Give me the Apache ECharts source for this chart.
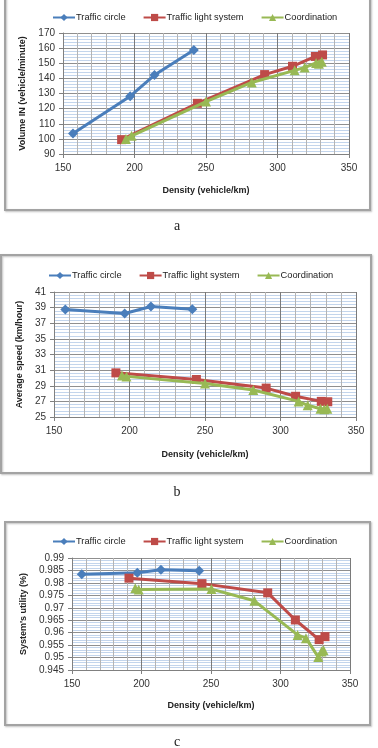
<!DOCTYPE html>
<html>
<head>
<meta charset="utf-8">
<script src="https://cdn.jsdelivr.net/npm/echarts@6/dist/echarts.min.js"></script>
<style>
  html, body { margin: 0; padding: 0; background: #fff; }
  #main { width: 378px; height: 748px; }
</style>
</head>
<body>
<div id="main"></div>
<script>
// series names
var seriesNames = ['Traffic circle', 'Traffic light system', 'Coordination'];

// chart a: volume IN vs density
var volCircle = [[157, 103.5], [197, 128.2], [214, 142.2], [241.5, 158.7]];
var volLight = [[191, 99.5], [244, 123.5], [291, 142.5], [310.5, 148], [326.5, 154.5], [331.5, 155.5]];
var volCoord = [[194, 100], [198, 102], [250, 124.7], [282, 137.3], [312, 145.3], [319, 147.2], [327, 150.2], [329, 149.6], [331, 151]];

// chart b: average speed vs density
var spdCircle = [[157.5, 38.75], [196.8, 38.25], [214.2, 39.15], [241.6, 38.8]];
var spdLight = [[191, 30.65], [244.3, 29.8], [290.5, 28.7], [310, 27.65], [327, 27.0], [331.3, 26.95]];
var spdCoord = [[195, 30.3], [198, 30.2], [250, 29.3], [282, 28.45], [312, 27.0], [318, 26.5], [326.5, 26.05], [329, 26.0], [331, 26.05]];

// chart c: system's utility vs density
var utlCircle = [[157, 0.9835], [197, 0.9841], [214, 0.9853], [241.5, 0.9849]];
var utlLight = [[191, 0.9819], [243.5, 0.9797], [290.8, 0.976], [310.7, 0.9651], [327.8, 0.9572], [332, 0.9584]];
var utlCoord = [[195.5, 0.9778], [198, 0.9773], [250.3, 0.9775], [281.2, 0.9728], [312.3, 0.9591], [318.3, 0.9578], [327.2, 0.9502], [329.5, 0.9524], [331, 0.9529]];

// tick settings
var xMin = 150, xMax = 350, xStep = 50;
var volTicks = [90, 170, 10];
var spdTicks = [25, 41, 2];
var utlTicks = [0.945, 0.99, 0.005];

var colors = ['#4a7ebb', '#be4b48', '#98b954'];
var symbols = ['diamond', 'rect', 'triangle'];
var symbolSizes = [10, 9, 10];

var myChart = echarts.init(document.getElementById('main'));

var panels = [
    { grid: { left: 63, top: 33, width: 286, height: 121 }, ticks: volTicks, yName: 'Volume IN (vehicle/minute)', yGap: 33, xGap: 32, legendTop: 8, legendLeft: 47, data: [volCircle, volLight, volCoord] },
    { grid: { left: 54, top: 292, width: 302, height: 125 }, ticks: spdTicks, yName: 'Average speed (km/hour)', yGap: 25, xGap: 33, legendTop: 266, legendLeft: 43, data: [spdCircle, spdLight, spdCoord] },
    { grid: { left: 72, top: 558, width: 278, height: 112 }, ticks: utlTicks, yName: "System's utility (%)", yGap: 42, xGap: 31, legendTop: 532, legendLeft: 47, data: [utlCircle, utlLight, utlCoord] }
];

var grids = [], xAxes = [], yAxes = [], legends = [], series = [];
panels.forEach(function (p, i) {
    grids.push(p.grid);
    xAxes.push({
        type: 'value', gridIndex: i, min: xMin, max: xMax, interval: xStep,
        name: 'Density (vehicle/km)', nameLocation: 'middle', nameGap: p.xGap,
        nameTextStyle: { fontFamily: 'Liberation Sans', fontSize: 9, fontWeight: 'bold', color: '#222' },
        axisLine: { onZero: false, lineStyle: { color: '#808080', width: 1 } },
        axisTick: { show: true, length: 4, lineStyle: { color: '#808080' } },
        axisLabel: { fontFamily: 'Liberation Sans', fontSize: 10, color: '#333', margin: 9 },
        splitLine: { show: true, lineStyle: { color: '#7a7a7a', width: 1 } },
        minorTick: { show: false, splitNumber: 5 },
        minorSplitLine: { show: true, lineStyle: { color: '#b4b4b4', width: 1 } }
    });
    yAxes.push({
        type: 'value', gridIndex: i, min: p.ticks[0], max: p.ticks[1], interval: p.ticks[2],
        name: p.yName, nameLocation: 'middle', nameGap: p.yGap,
        nameTextStyle: { fontFamily: 'Liberation Sans', fontSize: 9, fontWeight: 'bold', color: '#222' },
        axisLine: { show: true, lineStyle: { color: '#808080', width: 1 } },
        axisTick: { show: true, length: 4, lineStyle: { color: '#808080' } },
        axisLabel: {
            fontFamily: 'Liberation Sans', fontSize: 10, color: '#333', margin: 8,
            formatter: function (v) { return String(+v.toFixed(3)); }
        },
        splitLine: { show: true, lineStyle: { color: '#8f8f8f', width: 1 } },
        minorTick: { show: false, splitNumber: 5 },
        minorSplitLine: { show: true, lineStyle: { color: '#c3d5ec', width: 1 } }
    });
    legends.push({
        top: p.legendTop, left: p.legendLeft, itemWidth: 22, itemHeight: 9, itemGap: 17,
        data: seriesNames,
        textStyle: { fontFamily: 'Liberation Sans', fontSize: 9.3, color: '#222', padding: [0, 0, 0, -4] }
    });
    p.data.forEach(function (d, k) {
        series.push({
            name: seriesNames[k], type: 'line', xAxisIndex: i, yAxisIndex: i,
            data: d, symbol: symbols[k], symbolSize: symbolSizes[k],
            lineStyle: { color: colors[k], width: 3 },
            itemStyle: { color: colors[k] },
            z: 3 + k
        });
    });
});

var frameStyle = { fill: 'none', stroke: '#a3a3a3', lineWidth: 2, shadowColor: 'rgba(0,0,0,0.25)', shadowBlur: 2, shadowOffsetX: 1, shadowOffsetY: 1 };
var captionStyle = { fontFamily: 'Liberation Serif', fontSize: 14, fill: '#222', align: 'center', verticalAlign: 'middle' };

var option = {
    animation: false,
    grid: grids,
    xAxis: xAxes,
    yAxis: yAxes,
    legend: legends,
    series: series,
    graphic: [
        { type: 'rect', shape: { x: 5, y: -6, width: 365, height: 216 }, style: frameStyle, silent: true },
        { type: 'rect', shape: { x: 1, y: 255, width: 370, height: 218 }, style: frameStyle, silent: true },
        { type: 'rect', shape: { x: 5, y: 522, width: 365, height: 203 }, style: frameStyle, silent: true },
        { type: 'text', x: 177, y: 226, style: Object.assign({ text: 'a' }, captionStyle) },
        { type: 'text', x: 177, y: 492, style: Object.assign({ text: 'b' }, captionStyle) },
        { type: 'text', x: 177, y: 742, style: Object.assign({ text: 'c' }, captionStyle) }
    ]
};
myChart.setOption(option);
</script>
</body>
</html>
